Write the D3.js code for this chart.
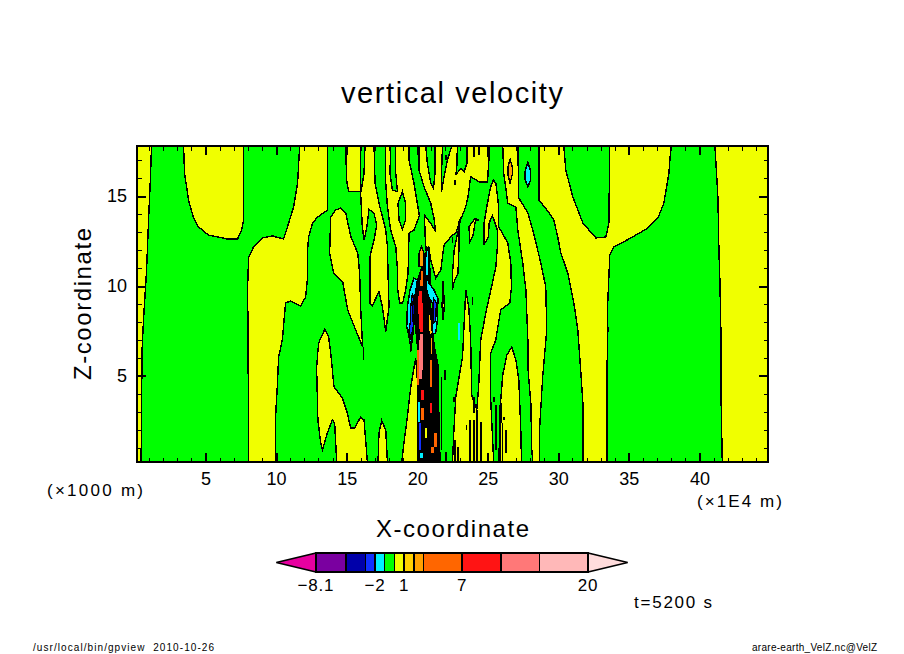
<!DOCTYPE html>
<html>
<head>
<meta charset="utf-8">
<script src="https://cdn.jsdelivr.net/npm/d3@7"></script>
<style>
  html, body { margin: 0; padding: 0; background: #fff; }
  text { font-family: "Liberation Sans", sans-serif; fill: #000; }
</style>
</head>
<body>
<div id="chart"></div>
<script>
// colour levels of w (m/s) and the colour of each band, lowest first
const levels = [-8.1, -5, -3, -2, -1, 0, 1, 2, 3, 7, 11, 15, 20];
const bandColours = ["#e600a0", "#7a00a0", "#0000aa", "#1030ff", "#00f0ff", "#00ff00", "#f0ff00",
                     "#ffd000", "#ffa000", "#ff6600", "#ff1414", "#ff7878", "#ffb8b8", "#ffdcdc"];
const barTips = [-12.2, 24.1];
const barLabels = [-8.1, -2, 1, 7, 20];

const xMajor = [5, 10, 15, 20, 25, 30, 35, 40];
const zMajor = [5, 10, 15];
const xMinor = d3.range(1, 45);
const zMinor = d3.range(1, 18);

// contours as [x (1E4 m), z (1000 m)]
const greenBase = [[1.17,17.78],[1.10,16.17],[0.96,13.67],[0.82,10.89],[0.60,8.11],[0.50,6.44],[0.43,0.22],[41.62,0.22],[41.52,4.33],[41.52,7.56],[41.45,10.33],[41.38,12.0],[41.31,14.94],[41.10,17.78]];
const blobLeft = [[3.44,17.78],[3.51,16.28],[3.79,14.78],[4.15,13.78],[4.50,13.28],[5.21,12.83],[6.56,12.61],[7.27,12.61],[7.55,13.11],[7.69,13.67],[7.69,17.78]];
const stripLeft = [[11.67,17.78],[11.52,15.72],[11.24,14.39],[10.67,12.94],[10.53,12.61],[9.75,12.78],[9.04,12.67],[8.40,12.17],[8.05,11.61],[7.98,9.94],[8.01,7.0],[8.05,0.22],[9.96,0.22],[9.96,2.72],[10.08,4.39],[10.18,6.06],[10.44,7.0],[10.67,9.06],[11.03,9.17],[11.74,8.89],[12.09,9.39],[12.21,10.33],[12.23,12.0],[12.30,12.72],[12.59,13.5],[12.94,13.83],[13.63,14.22],[13.63,17.78]];
const leafMid = [[14.57,14.33],[14.93,14.06],[15.28,12.78],[15.78,11.83],[15.92,10.72],[15.99,8.83],[16.13,6.61],[15.64,7.56],[15.07,8.67],[14.72,10.22],[14.08,10.72],[13.79,11.83],[13.87,13.83],[14.22,14.22]];
const hillMid = [[13.46,7.61],[13.01,6.83],[12.87,5.5],[12.92,3.83],[12.96,2.56],[13.16,1.28],[13.28,0.89],[13.63,1.83],[13.98,2.56],[14.15,2.39],[14.29,0.22],[16.47,0.22],[16.23,2.56],[15.99,2.72],[15.57,2.11],[15.28,2.11],[15.05,2.94],[14.69,3.78],[14.10,4.39],[13.87,6.28],[13.72,7.17]];
const hillSmall = [[17.48,2.52],[17.29,1.83],[17.22,0.22],[17.89,0.22],[17.77,2.0]];
const hillCore = [[19.89,6.0],[19.54,4.39],[19.30,2.72],[19.06,1.28],[18.90,0.22],[20.04,0.22],[20.04,4.5]];
const topBox = [[14.94,17.78],[14.99,15.89],[15.15,15.24],[16.0,15.24],[16.0,17.78]];
const fingerMid = [[16.30,17.78],[16.23,16.26],[15.99,15.15],[16.11,13.29],[16.23,12.56],[16.42,13.21],[16.58,14.26],[16.94,14.04],[17.13,13.39],[16.94,12.56],[16.65,11.63],[16.65,9.04],[16.82,8.91],[17.29,9.68],[17.53,8.85],[17.77,7.46],[18.0,8.85],[17.93,10.71],[17.89,12.18],[17.77,13.11],[17.29,14.59],[17.01,15.71],[16.94,17.78]];
const massLeft = [[17.77,17.78],[19.42,17.78],[19.42,17.0],[19.77,15.71],[20.01,14.59],[20.15,13.9],[19.77,13.11],[19.42,12.93],[19.35,10.72],[19.18,9.78],[18.97,9.06],[18.76,9.06],[18.62,9.78],[18.60,10.89],[18.48,12.17],[18.12,13.11],[17.89,14.39],[17.77,15.72]];
const massRight = [[20.13,17.78],[25.14,17.78],[24.98,15.79],[24.38,15.79],[23.79,16.07],[23.60,14.96],[23.44,14.41],[23.21,13.94],[22.96,13.57],[22.96,12.18],[22.89,10.71],[22.57,10.15],[22.50,9.78],[22.52,10.89],[22.62,12.0],[23.09,13.78],[22.73,12.93],[22.50,12.83],[21.90,12.28],[21.67,10.89],[21.31,10.44],[20.96,11.44],[20.82,12.17],[20.60,12.0],[20.51,13.94],[20.96,13.48],[21.31,13.02],[21.19,13.76],[20.96,14.59],[20.48,15.52],[20.13,16.44]];
const greenTop1 = [[18.12,17.78],[18.07,16.26],[18.24,15.33],[18.60,15.24],[18.48,16.26],[18.48,17.78]];
const greenOval = [[18.95,15.24],[18.64,14.59],[18.71,13.67],[18.95,13.15],[19.18,13.67],[19.18,14.59]];
const greenTop3 = [[20.60,17.78],[20.72,16.82],[20.96,15.71],[21.15,15.43],[21.26,16.26],[21.26,17.78]];
const greenTop4 = [[21.79,17.78],[21.74,16.63],[21.72,15.24],[21.90,16.07],[22.14,17.0],[22.45,17.78]];
const greenTop5 = [[22.85,17.78],[22.80,16.54],[22.73,16.17],[23.09,16.54],[23.32,16.35],[23.52,16.82],[23.52,17.78]];
const leafRight = [[24.10,13.76],[23.67,13.29],[23.72,12.46],[23.96,12.83],[24.13,13.67],[24.38,13.67]];
const bandRight = [[25.40,15.89],[25.57,15.72],[25.78,14.39],[25.78,13.28],[26.42,12.39],[26.63,11.28],[26.68,9.94],[26.56,9.06],[25.92,8.67],[25.71,7.72],[25.57,7.0],[25.21,6.28],[25.21,3.67],[25.42,0.22],[22.50,0.22],[22.59,1.83],[22.73,3.83],[23.21,6.06],[23.44,9.78],[23.65,8.83],[23.79,7.0],[23.86,3.94],[24.22,3.11],[24.36,4.5],[24.50,7.0],[24.86,8.5],[25.33,10.17],[25.57,11.06],[25.68,12.17],[25.68,13.11],[25.44,13.67],[25.33,13.89],[25.09,13.5],[25.05,12.74],[24.72,12.28],[24.74,13.5],[24.93,14.41],[25.21,15.52]];
const hillRight = [[26.70,6.61],[26.35,6.17],[26.06,5.06],[25.92,3.67],[25.85,2.0],[25.78,0.22],[27.39,0.22],[27.34,2.0],[27.20,4.78],[26.99,5.89]];
const sliver = [[21.84,10.25],[21.76,8.9],[21.84,8.1],[21.92,8.9]];
const bandNarrow = [[26.06,17.78],[26.13,16.28],[26.42,14.61],[26.99,14.39],[27.13,13.11],[27.48,11.28],[27.70,9.78],[27.84,7.0],[27.84,5.5],[28.05,3.5],[28.12,0.89],[28.19,0.22],[28.68,0.22],[28.68,2.17],[28.89,4.94],[29.18,7.56],[29.11,9.94],[28.76,11.28],[28.19,13.11],[27.84,14.06],[27.20,14.89],[27.13,17.78]];
const bandWide = [[28.62,17.78],[28.62,14.78],[29.25,14.17],[29.68,13.67],[29.96,12.72],[30.18,11.83],[30.67,10.72],[31.10,9.06],[31.38,7.56],[31.60,5.17],[31.74,3.5],[31.74,0.22],[33.44,0.22],[33.44,4.94],[33.51,7.56],[33.49,8.85],[33.65,11.72],[33.94,12.17],[35.14,12.67],[36.35,13.22],[37.06,13.78],[37.48,14.61],[37.84,16.28],[37.98,17.78],[33.65,17.78],[33.58,13.5],[33.37,12.72],[32.66,12.67],[31.74,13.5],[31.03,14.94],[30.53,16.44],[30.39,17.78]];
const ovalCyan = [[27.84,16.89],[27.65,16.4],[27.65,15.9],[27.84,15.5],[28.03,15.9],[28.03,16.4]];
const ovalGold = [[26.58,17.05],[26.42,16.6],[26.42,16.2],[26.58,15.72],[26.74,16.2],[26.74,16.6]];

// the updraft core
const cyanLeft = [[19.77,10.43],[19.49,9.78],[19.30,8.85],[19.26,7.74],[19.49,6.91],[19.54,6.33],[19.73,7.56],[20.01,10.33]];
const denseCore = [[20.74,12.17],[20.53,11.33],[20.25,11.0],[19.96,10.33],[19.75,9.22],[19.82,7.83],[19.96,6.72],[20.04,5.06],[20.04,2.56],[19.96,0.22],[21.67,0.22],[21.59,2.56],[21.52,5.61],[21.24,6.72],[21.10,8.11],[20.96,9.22],[20.96,10.89]];
const blueLeft = [[19.66,9.59],[19.54,8.85],[19.54,8.11],[19.42,7.56],[19.54,7.0],[19.77,7.93],[19.89,8.85]];
const navyLeft = [[19.75,9.39],[19.65,8.67],[19.68,8.0],[19.82,8.56]];
const cyanRight = [[20.67,10.52],[20.84,10.15],[21.19,9.78],[21.47,9.32],[21.43,8.11],[21.31,7.39],[21.01,7.28],[21.08,7.94],[21.08,9.06],[20.84,9.32],[20.67,9.78]];
const blueRight = [[21.15,9.32],[21.36,9.04],[21.31,8.11],[21.15,7.93]];
const orangeTop = [[20.25,10.89],[20.13,9.94],[20.48,9.94],[20.48,10.89]];
const redCore = [[20.06,9.78],[20.01,8.85],[20.13,7.37],[20.44,7.37],[20.44,8.85],[20.37,9.78]];
const salmonCore = [[20.13,7.39],[20.44,7.39],[20.46,5.89],[20.39,4.78],[20.11,4.78],[20.06,5.89]];
const goldInner = [[20.77,8.48],[20.96,8.39],[21.08,7.37],[20.84,7.18]];
const amberInner = [[20.96,7.18],[21.12,7.11],[21.08,6.17],[20.96,6.17]];
const amberTop = [[20.13,11.82],[20.30,12.2],[20.48,11.82],[20.48,11.07],[20.13,11.07]];
const cyanTop = [[20.67,12.2],[20.84,11.8],[20.84,10.6],[20.60,10.6],[20.60,11.5]];

// [band index, polygon], in painting order
const regions = [
    [5, greenBase], [6, blobLeft], [6, stripLeft], [6, leafMid], [6, hillMid], [6, hillSmall], [6, hillCore],
    [6, topBox], [6, fingerMid], [6, massLeft], [6, massRight], [5, greenTop1], [5, greenOval], [5, greenTop3],
    [5, greenTop4], [5, greenTop5], [6, leafRight], [6, bandRight], [6, hillRight], [6, sliver],
    [6, bandNarrow], [6, bandWide], [4, ovalCyan], [8, ovalGold], [4, cyanLeft]
];
const coreRegions = [
    [3, blueLeft], [2, navyLeft], [4, cyanRight], [3, blueRight], [9, orangeTop], [10, redCore], [11, salmonCore],
    [7, goldInner], [8, amberInner], [8, amberTop], [4, cyanTop]
];

// short closely spaced contours: [x, z low, z high]
const blackStreaks = [
    [21.97,4.78,5.33],[23.49,2.0,2.28],[23.74,0.22,2.56],[24.03,0.22,2.56],[24.22,0.22,3.11],[24.50,0.22,2.44],
    [25.45,3.56,3.83],[25.57,0.89,3.39],[25.85,0.22,3.39],[26.16,2.56,2.72],[22.68,0.22,1.44],[22.89,0.22,1.06],
    [22.02,0.22,0.78],[21.72,0.89,4.94],[26.04,0.22,2.39],[26.28,0.72,2.0],[25.92,2.39,3.5],[23.91,8.94,9.39],
    [22.59,3.56,3.83],[16.18,5.89,6.61],[24.03,2.94,3.83],[24.03,17.17,17.78],[24.38,17.28,17.78],[24.98,17.17,17.78],
    [22.02,17.0,17.28],[22.66,15.61,15.89],[22.50,12.39,12.72]
];
// coloured slivers inside the core: [band index, x, z low, z high]
const colourStreaks = [
    [9,20.04,4.5,6.44],[9,20.96,4.39,5.89],[9,20.37,2.56,3.22],[10,20.96,2.94,3.5],[10,20.37,3.67,4.22],
    [4,20.13,2.44,3.56],[3,20.20,0.89,2.39],[4,20.30,0.44,0.72],[6,20.63,1.56,2.11],[9,21.08,0.72,1.06],
    [9,21.31,1.06,1.83],[4,22.96,7.0,7.94]
];

const title = "vertical velocity";
const xTitle = "X-coordinate";
const zTitle = "Z-coordinate";

const width = 904, height = 654;
const plot = { left: 137, right: 768, top: 146, bottom: 462 };

const svg = d3.select("#chart").append("svg").attr("width", width).attr("height", height);

const x = d3.scaleLinear().domain([0.14, 44.86]).range([plot.left, plot.right]);
const z = d3.scaleLinear().domain([0.22, 17.78]).range([plot.bottom, plot.top]);
const line = d3.line().x(d => x(d[0])).y(d => z(d[1]));

svg.append("clipPath").attr("id", "plotClip").append("rect")
    .attr("x", plot.left).attr("y", plot.top)
    .attr("width", plot.right - plot.left).attr("height", plot.bottom - plot.top);

const field = svg.append("g").attr("clip-path", "url(#plotClip)").attr("shape-rendering", "crispEdges");

field.append("rect")
    .attr("x", plot.left).attr("y", plot.top)
    .attr("width", plot.right - plot.left).attr("height", plot.bottom - plot.top)
    .attr("fill", bandColours[6]);

function drawRegions(rows) {
    field.append("g").selectAll("path").data(rows).join("path")
        .attr("d", d => line(d[1]) + "Z")
        .attr("fill", d => bandColours[d[0]])
        .attr("stroke", "#000")
        .attr("stroke-width", 1.4);
}
drawRegions(regions);

field.append("path").attr("d", line(denseCore) + "Z").attr("fill", "#000");
drawRegions(coreRegions);

field.append("g").selectAll("line").data(colourStreaks).join("line")
    .attr("x1", d => x(d[1])).attr("x2", d => x(d[1]))
    .attr("y1", d => z(d[2])).attr("y2", d => z(d[3]))
    .attr("stroke", d => bandColours[d[0]]).attr("stroke-width", 2.5);

field.append("g").selectAll("line").data(blackStreaks).join("line")
    .attr("x1", d => x(d[0])).attr("x2", d => x(d[0]))
    .attr("y1", d => z(d[1])).attr("y2", d => z(d[2]))
    .attr("stroke", "#000").attr("stroke-width", 1.6);

// axes: ticks point into the frame on all four sides
function addAxis(axis, tx, ty, values, size, weight, labelled) {
    const g = svg.append("g").attr("transform", `translate(${tx},${ty})`)
        .attr("shape-rendering", "crispEdges")
        .call(axis.tickValues(values).tickSize(-size).tickPadding(labelled ? 10 : 0)
            .tickFormat(labelled ? d3.format("d") : ""));
    g.select(".domain").remove();
    g.selectAll(".tick line").attr("stroke", "#000").attr("stroke-width", weight);
    g.selectAll("text").style("font-family", '"Liberation Sans", sans-serif').style("font-size", "18px");
    return g;
}
addAxis(d3.axisBottom(x), 0, plot.bottom, xMinor, 4.5, 1, false);
addAxis(d3.axisTop(x), 0, plot.top, xMinor, 4.5, 1, false);
addAxis(d3.axisLeft(z), plot.left, 0, zMinor, 4.5, 1, false);
addAxis(d3.axisRight(z), plot.right, 0, zMinor, 4.5, 1, false);
addAxis(d3.axisBottom(x), 0, plot.bottom, xMajor, 9, 2, true);
addAxis(d3.axisTop(x), 0, plot.top, xMajor, 9, 2, false);
addAxis(d3.axisLeft(z), plot.left, 0, zMajor, 9, 2, true);
addAxis(d3.axisRight(z), plot.right, 0, zMajor, 9, 2, false);

svg.append("rect")
    .attr("x", plot.left).attr("y", plot.top)
    .attr("width", plot.right - plot.left).attr("height", plot.bottom - plot.top)
    .attr("fill", "none").attr("stroke", "#000").attr("stroke-width", 2.4)
    .attr("shape-rendering", "crispEdges");

// text, stretched to the widths of the original stroke font
function label(str, px, py, size, len, rotate) {
    const t = svg.append("text")
        .attr("font-size", size).attr("textLength", len).attr("lengthAdjust", "spacing")
        .text(str);
    if (rotate) t.attr("transform", `translate(${px},${py}) rotate(-90)`);
    else t.attr("x", px).attr("y", py);
    return t;
}
label(title, 341, 103, 29, 222);
label(xTitle, 376, 537, 24, 153);
label(zTitle, 91, 380, 24, 152, true);
label("(×1000 m)", 47, 496, 17, 96);
label("(×1E4 m)", 697, 507, 17, 85);
label("t=5200 s", 634, 608, 17, 78);
label("/usr/local/bin/gpview  2010-10-26", 33, 651, 10, 181).attr("xml:space", "preserve");
label("arare-earth_VelZ.nc@VelZ", 752, 651, 10, 125);

// colour bar
const bar = d3.scaleLinear().domain([levels[0], levels[levels.length - 1]]).range([316, 588]);
const barTop = 553, barBottom = 572, barMid = (barTop + barBottom) / 2;
const barG = svg.append("g");

barG.append("path")
    .attr("d", d3.line()([[bar(barTips[0]), barMid], [bar(levels[0]), barTop], [bar(levels[0]), barBottom]]) + "Z")
    .attr("fill", bandColours[0]).attr("stroke", "#000").attr("stroke-width", 1.5);
barG.append("path")
    .attr("d", d3.line()([[bar(barTips[1]), barMid], [bar(levels[levels.length - 1]), barTop], [bar(levels[levels.length - 1]), barBottom]]) + "Z")
    .attr("fill", bandColours[13]).attr("stroke", "#000").attr("stroke-width", 1.5);

barG.selectAll("rect").data(d3.pairs(levels)).join("rect")
    .attr("x", d => bar(d[0])).attr("y", barTop)
    .attr("width", d => bar(d[1]) - bar(d[0])).attr("height", barBottom - barTop)
    .attr("fill", (d, i) => bandColours[i + 1])
    .attr("stroke", "#000").attr("stroke-width", 1.5)
    .attr("shape-rendering", "crispEdges");

barG.selectAll("text").data(barLabels).join("text")
    .attr("x", d => bar(d)).attr("y", 591)
    .attr("text-anchor", "middle").attr("font-size", 17).attr("letter-spacing", 0.8)
    .text(d => String(d).replace("-", "\u2212"));
</script>
</body>
</html>
